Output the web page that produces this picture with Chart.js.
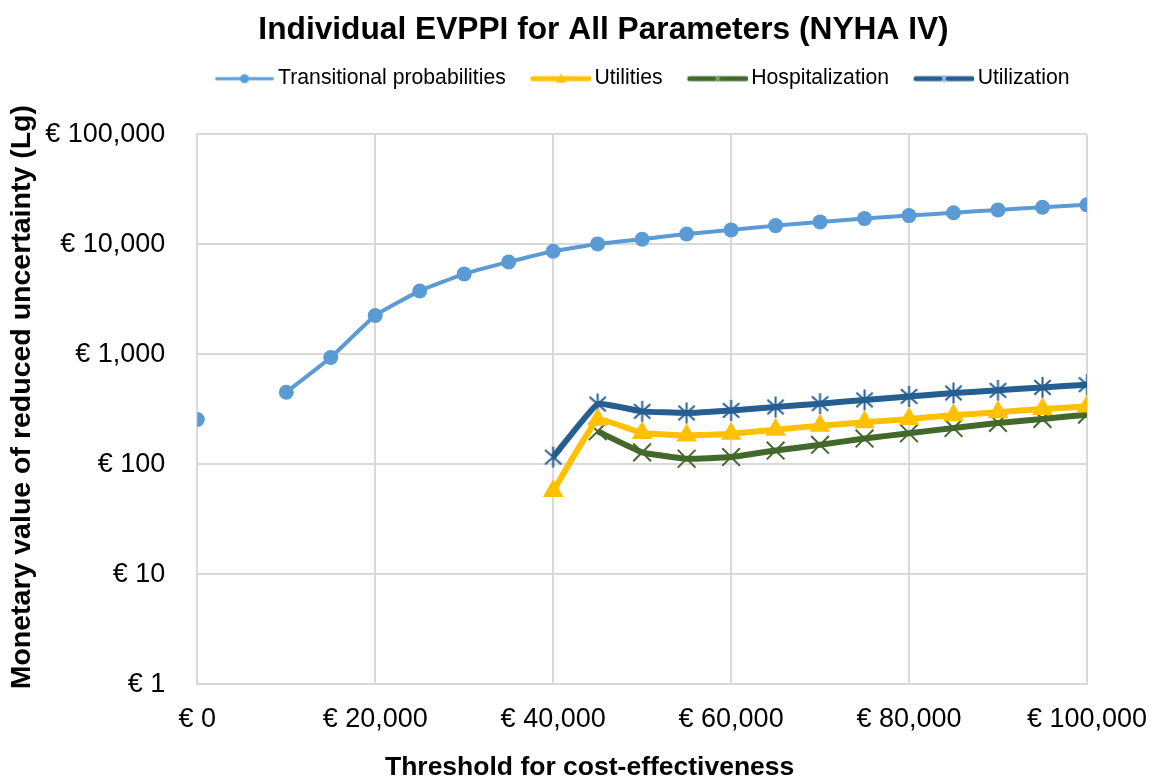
<!DOCTYPE html>
<html>
<head>
<meta charset="utf-8">
<script src="https://cdn.jsdelivr.net/npm/chart.js@4.4.0/dist/chart.umd.min.js"></script>
<style>
    html, body { margin: 0; padding: 0; background: #fff; }
    #wrap { width: 1161px; height: 781px; }
</style>
</head>
<body>
<div id="wrap"><canvas id="evppiChart"></canvas></div>
<script>
    "use strict";

    var thresholds = [0, 5000, 10000, 15000, 20000, 25000, 30000, 35000, 40000, 45000, 50000,
        55000, 60000, 65000, 70000, 75000, 80000, 85000, 90000, 95000, 100000];
    var transitional = [255, null, 451, 933, 2250, 3760, 5370, 6900, 8640, 10060, 11100,
        12400, 13500, 14760, 15950, 17100, 18200, 19300, 20500, 21700, 22800];
    var utilities = [null, null, null, null, null, null, null, null, 57, 254, 192,
        182, 189, 206, 224, 240, 258, 278, 296, 318, 335];
    var hospitalization = [null, null, null, null, null, null, null, null, null, 199, 128,
        112, 116, 133, 150, 171, 191, 213, 237, 258, 282];
    var utilization = [null, null, null, null, null, null, null, null, 116, 352, 302,
        292, 308, 331, 355, 384, 413, 444, 469, 499, 528];
    var yTicks = [1, 10, 100, 1000, 10000, 100000];

    var FONT = "'Liberation Sans', Arial, sans-serif";

    function toPoints(arr) {
        return thresholds.map(function (t, i) { return { x: t, y: arr[i] }; });
    }

    function euro(v) {
        return "€ " + Number(v).toLocaleString("en-US");
    }

    // asterisk marker like the Excel one
    function asterisk(size, color, lw) {
        var c = document.createElement("canvas");
        c.width = size; c.height = size;
        var g = c.getContext("2d");
        var m = size / 2, r = size / 2 - 1;
        g.strokeStyle = color;
        g.lineWidth = lw;
        g.beginPath();
        g.moveTo(m, m - r); g.lineTo(m, m + r);
        g.moveTo(m - r * 0.78, m - r * 0.7); g.lineTo(m + r * 0.78, m + r * 0.7);
        g.moveTo(m + r * 0.78, m - r * 0.7); g.lineTo(m - r * 0.78, m + r * 0.7);
        g.stroke();
        return c;
    }

    // line + marker picture for the legend (line sits at the right end of the canvas)
    var ICON_W = 82, LINE_LEN = 60;
    function legendIcon(color, lw, marker) {
        var c = document.createElement("canvas");
        c.width = ICON_W; c.height = 14;
        var g = c.getContext("2d");
        var x0 = ICON_W - LINE_LEN, mx = ICON_W - LINE_LEN / 2;
        g.strokeStyle = color;
        g.fillStyle = color;
        g.lineWidth = lw;
        g.lineCap = "round";
        g.beginPath(); g.moveTo(x0 + 2, 7); g.lineTo(ICON_W - 2, 7); g.stroke();
        g.lineCap = "butt";
        g.lineWidth = 1.2;
        if (marker === "circle") {
            g.beginPath(); g.arc(mx, 7, 4.5, 0, Math.PI * 2); g.fill();
        } else if (marker === "triangle") {
            g.beginPath(); g.moveTo(mx, 2); g.lineTo(mx + 5, 11); g.lineTo(mx - 5, 11); g.closePath(); g.fill();
        } else if (marker === "cross") {
            g.strokeStyle = "#8fb36e";
            g.beginPath(); g.moveTo(mx - 3, 4); g.lineTo(mx + 3, 10); g.moveTo(mx + 3, 4); g.lineTo(mx - 3, 10); g.stroke();
        } else {
            g.strokeStyle = "#9dc3e6";
            g.beginPath(); g.moveTo(mx, 3); g.lineTo(mx, 11); g.moveTo(mx - 3, 4); g.lineTo(mx + 3, 10); g.moveTo(mx + 3, 4); g.lineTo(mx - 3, 10); g.stroke();
        }
        return c;
    }

    var seriesLooks = [
        { label: "Transitional probabilities", data: transitional, color: "#5b9bd5", width: 4, marker: "circle" },
        { label: "Utilities", data: utilities, color: "#ffc000", width: 6, marker: "triangle" },
        { label: "Hospitalization", data: hospitalization, color: "#43682b", width: 6, marker: "cross" },
        { label: "Utilization", data: utilization, color: "#255e91", width: 6, marker: "asterisk" }
    ];

    var datasets = seriesLooks.map(function (s) {
        var ds = {
            label: s.label,
            data: toPoints(s.data),
            borderColor: s.color,
            backgroundColor: s.color,
            borderWidth: s.width,
            tension: 0.1,
            spanGaps: false,
            pointBorderColor: s.color,
            pointBackgroundColor: s.color,
            pointBorderWidth: 2,
            pointRadius: 8
        };
        if (s.marker === "circle") { ds.pointStyle = "circle"; ds.pointRadius = 7.5; ds.pointBorderWidth = 0; }
        if (s.marker === "triangle") { ds.pointStyle = "triangle"; ds.pointRadius = 12; ds.pointBorderWidth = 0; }
        if (s.marker === "cross") { ds.pointStyle = "crossRot"; ds.pointRadius = 12.5; ds.pointBorderWidth = 2; }
        if (s.marker === "asterisk") { ds.pointStyle = asterisk(23, s.color, 2); }
        ds._legendIcon = legendIcon(s.color, s.width - 1, s.marker);
        return ds;
    });

    // move an axis title along its axis without moving the axis
    function shiftTitle(scale, dx, dy) {
        if (scale._titleShifted) return;
        var orig = scale.drawTitle;
        scale.drawTitle = function () {
            var l = this.left, r = this.right, t = this.top, b = this.bottom;
            this.left += dx; this.right += dx; this.top += dy; this.bottom += dy;
            orig.call(this);
            this.left = l; this.right = r; this.top = t; this.bottom = b;
        };
        scale._titleShifted = true;
    }

    var layoutTweaks = {
        id: "layoutTweaks",
        // extra room between legend and plot area
        beforeInit: function (chart) {
            var originalFit = chart.legend.fit;
            chart.legend.fit = function () {
                originalFit.bind(chart.legend)();
                this.height += 35;
            };
        },
        // title, legend and axis titles are off the plot centre in the original
        afterLayout: function (chart) {
            chart.titleBlock.left += 22;
            chart.titleBlock.right += 22;
            chart.legend.left += 53;
            chart.legend.right += 53;
            shiftTitle(chart.scales.x, -52.5, 0);
            shiftTitle(chart.scales.y, 0, -12);
        }
    };

    var ctx = document.getElementById("evppiChart").getContext("2d");
    var evppiChart = new Chart(ctx, {
        type: "line",
        data: { datasets: datasets },
        plugins: [layoutTweaks],
        options: {
            responsive: true,
            maintainAspectRatio: false,
            animation: false,
            layout: { padding: { left: 5, right: 3, top: 7, bottom: 0 } },
            plugins: {
                title: {
                    display: true,
                    text: "Individual EVPPI for All Parameters (NYHA IV)",
                    color: "#000",
                    font: { family: FONT, size: 31.7, weight: "bold" },
                    padding: { top: 4, bottom: 9 }
                },
                legend: {
                    display: true,
                    labels: {
                        usePointStyle: true,
                        pointStyleWidth: 68,
                        boxHeight: 14,
                        padding: 10,
                        color: "#000",
                        font: { family: FONT, size: 21.2 },
                        generateLabels: function (chart) {
                            return chart.data.datasets.map(function (ds, i) {
                                return {
                                    text: ds.label,
                                    pointStyle: ds._legendIcon,
                                    fillStyle: ds.borderColor,
                                    strokeStyle: ds.borderColor,
                                    lineWidth: 0,
                                    hidden: false,
                                    datasetIndex: i
                                };
                            });
                        }
                    }
                },
                tooltip: { enabled: false }
            },
            scales: {
                x: {
                    type: "linear",
                    min: 0,
                    max: 100000,
                    afterFit: function (scale) {
                        scale.paddingRight = Math.max(scale.paddingRight - 5, 0);
                    },
                    grid: { color: "#d9d9d9", lineWidth: 2, drawTicks: false },
                    border: { color: "#d9d9d9", width: 2 },
                    ticks: {
                        stepSize: 20000,
                        padding: 19,
                        color: "#000",
                        font: { family: FONT, size: 27 },
                        maxRotation: 0,
                        callback: euro
                    },
                    title: {
                        display: true,
                        text: "Threshold for cost-effectiveness",
                        color: "#000",
                        font: { family: FONT, size: 26.5, weight: "bold", lineHeight: 1 },
                        padding: { top: 0, bottom: 0 }
                    }
                },
                y: {
                    type: "logarithmic",
                    min: 1,
                    max: 100000,
                    grid: { color: "#d9d9d9", lineWidth: 2, drawTicks: false },
                    border: { color: "#d9d9d9", width: 2 },
                    afterBuildTicks: function (axis) {
                        axis.ticks = yTicks.map(function (v) { return { value: v }; });
                    },
                    ticks: {
                        padding: 32,
                        color: "#000",
                        font: { family: FONT, size: 27 },
                        callback: euro
                    },
                    title: {
                        display: true,
                        text: "Monetary value of reduced uncertainty (Lg)",
                        color: "#000",
                        font: { family: FONT, size: 28.5, weight: "bold" },
                        padding: { top: 0, bottom: -26 }
                    }
                }
            }
        }
    });
</script>
</body>
</html>
